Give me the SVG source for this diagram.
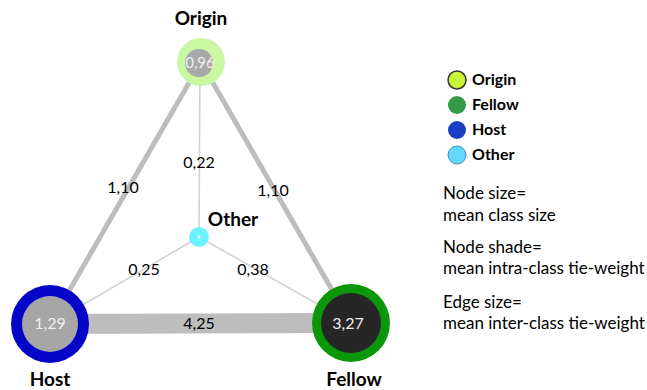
<svg xmlns="http://www.w3.org/2000/svg" width="647" height="390" viewBox="0 0 647 390">
<style>
.t{font-family:Lato,"Liberation Sans",sans-serif;fill:#000}
.b{font-weight:bold;font-size:19px}
.e{font-size:16px;text-anchor:middle}
.v{font-size:16px;text-anchor:middle;fill:#f0f0f0}
.lg{font-size:16px;font-weight:bold}
.tx{font-size:17px}
.thick{stroke:#bdbdbd;stroke-width:5;fill:none}
.thin{stroke:#d2d2d2;stroke-width:1.6;fill:none}
</style>
<rect width="647" height="390" fill="#fff"/>
<g id="connectors">
<line class="thick" x1="201" y1="62" x2="50" y2="324"/>
<line class="thick" x1="201" y1="62" x2="351" y2="323"/>
<line class="thin" x1="200" y1="62" x2="199" y2="237"/>
<line class="thin" x1="199" y1="237" x2="50" y2="324"/>
<line class="thin" x1="199" y1="237" x2="351" y2="323"/>
<line stroke="#bdbdbd" stroke-width="20" x1="50" y1="324" x2="351" y2="323"/>
<text class="t e" x="123" y="193">1,10</text>
<text class="t e" x="273" y="196">1,10</text>
<text class="t e" x="199" y="168">0,22</text>
<text class="t e" x="144" y="275">0,25</text>
<text class="t e" x="253" y="275">0,38</text>
<text class="t e" x="199" y="329">4,25</text>
</g>
<g id="node-origin">
<circle cx="201" cy="62" r="24" fill="#c9f7a2"/>
<circle cx="199" cy="63" r="14" fill="#a8a8a8"/>
<text class="t v" x="200" y="68" style="font-size:15px">0,96</text>
<text class="t b" x="201" y="25" text-anchor="middle">Origin</text>
</g>
<g id="node-host">
<circle cx="50" cy="324" r="39" fill="#0505c8"/>
<circle cx="50" cy="324" r="28" fill="#a6a6a6"/>
<text class="t v" x="50" y="329">1,29</text>
<text class="t b" x="50" y="386" text-anchor="middle">Host</text>
</g>
<g id="node-fellow">
<circle cx="351" cy="323" r="39" fill="#0a980a"/>
<circle cx="351" cy="323" r="30" fill="#262626"/>
<text class="t v" x="348" y="329">3,27</text>
<text class="t b" x="354" y="386" text-anchor="middle">Fellow</text>
</g>
<g id="node-other">
<circle cx="199" cy="237" r="10" fill="#6ef2ff"/>
<circle cx="199" cy="237" r="1.5" fill="#ffffff"/>
<text class="t b" x="233" y="226" text-anchor="middle">Other</text>
</g>
<g id="legend">
<circle cx="457" cy="80" r="9" fill="#c6f53a" stroke="#333" stroke-width="1.5"/>
<circle cx="457" cy="105" r="9" fill="#349a48"/>
<circle cx="457" cy="130" r="9" fill="#1b3fc4"/>
<circle cx="457" cy="155" r="9" fill="#62d8fb" stroke="#3a8fc0" stroke-width="1"/>
<text class="t lg" x="472" y="85">Origin</text>
<text class="t lg" x="472" y="110">Fellow</text>
<text class="t lg" x="472" y="135">Host</text>
<text class="t lg" x="472" y="160">Other</text>
<text class="t tx" x="443" y="199">Node size=</text>
<text class="t tx" x="443" y="221">mean class size</text>
<text class="t tx" x="443" y="253">Node shade=</text>
<text class="t tx" x="443" y="274">mean intra-class tie-weight</text>
<text class="t tx" x="443" y="308">Edge size=</text>
<text class="t tx" x="443" y="329">mean inter-class tie-weight</text>
</g>
</svg>
